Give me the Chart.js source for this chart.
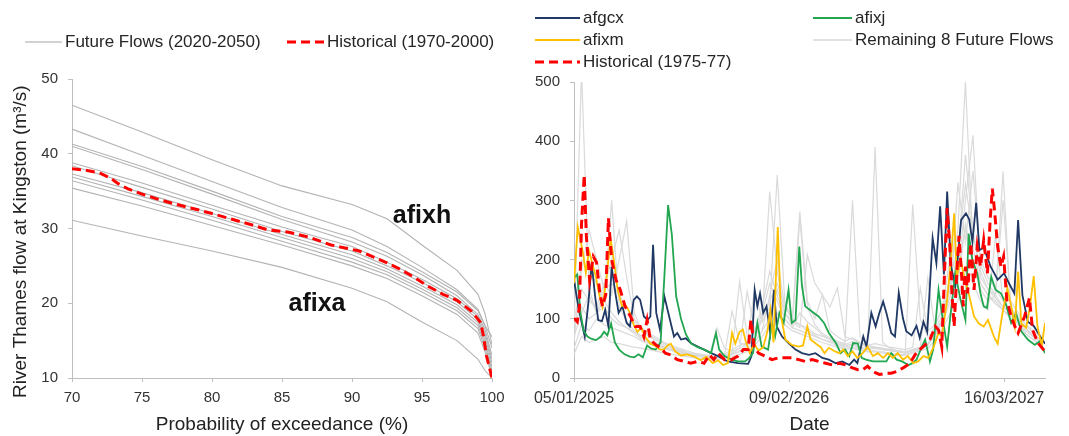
<!DOCTYPE html>
<html>
<head>
<meta charset="utf-8">
<script src="https://cdn.jsdelivr.net/npm/chart.js@4.4.1/dist/chart.umd.min.js"></script>
<style>
    body { margin: 0; background: #fff; font-family: "Liberation Sans", Arial, sans-serif; }
    #wrap { position: relative; width: 1069px; height: 436px; overflow: hidden; }
    canvas { position: absolute; top: 0; }
    .leg { position: absolute; height: 20px; line-height: 20px; display: flex; align-items: center; font-size: 17px; color: #262626; white-space: nowrap; }
    .leg svg { display: block; margin-right: 3px; }
</style>
</head>
<body>
<div id="wrap">
    <canvas id="fdcChart" width="540" height="436" style="left:0"></canvas>
    <canvas id="flowChart" width="549" height="436" style="left:520px"></canvas>

    <div class="leg" style="left:25px;top:32px"><svg width="37" height="20"><line x1="0" y1="10" x2="37" y2="10" stroke="#a6a6a6" stroke-width="1.2"/></svg>Future Flows (2020-2050)</div>
    <div class="leg" style="left:287px;top:32px"><svg width="37" height="20"><line x1="0" y1="10" x2="37" y2="10" stroke="#ff0000" stroke-width="3" stroke-dasharray="9 5"/></svg>Historical (1970-2000)</div>

    <div class="leg" style="left:535px;top:8px"><svg width="45" height="20"><line x1="0" y1="10" x2="45" y2="10" stroke="#1f3864" stroke-width="2"/></svg>afgcx</div>
    <div class="leg" style="left:535px;top:30px"><svg width="45" height="20"><line x1="0" y1="10" x2="45" y2="10" stroke="#ffc000" stroke-width="2"/></svg>afixm</div>
    <div class="leg" style="left:535px;top:52px"><svg width="45" height="20"><line x1="0" y1="10" x2="45" y2="10" stroke="#ff0000" stroke-width="3" stroke-dasharray="9 5"/></svg>Historical (1975-77)</div>
    <div class="leg" style="left:813px;top:8px"><svg width="39" height="20"><line x1="0" y1="10" x2="39" y2="10" stroke="#22a650" stroke-width="2"/></svg>afixj</div>
    <div class="leg" style="left:813px;top:30px"><svg width="39" height="20"><line x1="0" y1="10" x2="39" y2="10" stroke="#d9d9d9" stroke-width="1.5"/></svg>Remaining 8 Future Flows</div>
</div>

<script>
///////////////////////////// left panel: flow duration curves /////////////////////////////
const exceedance = [70, 75, 80, 85, 90, 92.5, 95, 97.5, 99, 99.5, 100];
const futureFlowCurves = [
    [46.5, 42.9, 39.2, 35.7, 33.2, 31.3, 27.8, 24.4, 21.2, 18.6, 14.5], // afixh
    [43.3, 39.8, 36.3, 32.8, 29.8, 27.6, 24.8, 21.8, 19.2, 17.0, 14.0],
    [41.3, 38.3, 35.0, 31.6, 28.8, 26.8, 24.2, 21.5, 19.0, 17.0, 15.5],
    [41.0, 37.9, 34.6, 31.2, 28.2, 26.3, 23.8, 21.0, 18.5, 16.5, 13.0],
    [38.8, 36.1, 33.1, 30.2, 27.6, 25.5, 23.2, 20.6, 18.2, 16.0, 12.5],
    [38.4, 35.5, 32.6, 29.6, 27.0, 25.0, 22.8, 20.2, 17.8, 15.5, 12.0],
    [37.3, 34.8, 32.0, 29.2, 26.5, 24.6, 22.3, 19.8, 17.4, 15.0, 11.5],
    [36.9, 34.3, 31.6, 28.8, 26.0, 24.2, 21.9, 19.4, 17.0, 14.5, 11.0],
    [36.4, 33.8, 31.1, 28.3, 25.5, 23.8, 21.5, 19.0, 16.6, 14.0, 10.5],
    [35.4, 33.0, 30.4, 27.8, 25.0, 23.3, 21.0, 18.5, 16.0, 13.5, 10.2],
    [31.1, 29.0, 27.0, 24.8, 22.0, 20.2, 17.5, 15.0, 12.5, 11.0, 10.0]  // afixa
];
const histExceed = [70, 71, 72, 72.7, 73.3, 74, 75, 76, 77.5, 79, 80, 81.5, 83, 84, 85.5, 87, 88.5, 89.5, 90.5, 91.5, 92.5, 93.5, 94.5, 95.5, 96.5, 97.5, 98.5, 99.2, 99.4, 99.6, 99.8, 100];
const histFlow = [38.0, 37.8, 37.4, 36.8, 36.0, 35.3, 34.6, 34.0, 33.2, 32.5, 32.0, 31.2, 30.4, 29.8, 29.5, 28.8, 27.8, 27.4, 27.0, 26.2, 25.4, 24.5, 23.4, 22.2, 21.2, 20.4, 19.0, 17.4, 15.5, 13.0, 11.5, 10.0];

///////////////////////////// right panel: daily flows (day since 05/01/2025, m3/s) /////////////////////////////
const dateTickDays = [0, 400, 800];
const dateTicks = ['05/01/2025', '09/02/2026', '16/03/2027'];

const afgcx = [[0,166],[8,120],[14,95],[20,70],[27,130],[33,194],[39,140],[45,98],[52,96],[58,115],[64,87],[70,188],[77,143],[83,110],[90,121],[98,93],[104,87],[111,132],[117,138],[123,132],[130,104],[137,98],[142,104],[147,225],[153,110],[160,81],[168,138],[177,104],[186,70],[192,76],[199,65],[208,67],[217,59],[230,53],[242,48],[255,42],[268,37],[286,28],[305,25],[324,24],[330,37],[336,149],[341,121],[346,143],[352,110],[358,121],[365,76],[372,149],[377,87],[387,70],[399,59],[412,48],[424,42],[437,39],[449,42],[462,34],[474,31],[487,25],[499,28],[512,22],[521,31],[527,25],[538,70],[544,53],[553,110],[561,87],[568,110],[575,129],[581,110],[590,76],[597,70],[604,144],[612,100],[618,79],[628,72],[637,88],[643,68],[650,95],[657,78],[667,236],[674,194],[681,290],[688,175],[694,315],[701,190],[709,155],[720,267],[729,278],[735,268],[741,230],[748,296],[754,216],[762,220],[775,188],[788,166],[800,177],[809,160],[819,143],[826,267],[834,140],[844,95],[855,88],[866,72],[876,58]];

const afixj = [[0,169],[6,175],[12,110],[18,80],[25,70],[33,66],[41,64],[50,70],[56,78],[62,72],[69,92],[76,60],[84,48],[94,40],[104,36],[112,35],[120,40],[128,35],[136,55],[143,50],[152,48],[161,60],[168,170],[175,292],[182,242],[190,138],[199,100],[208,74],[218,58],[230,52],[242,48],[255,42],[264,76],[270,48],[280,37],[293,31],[305,28],[318,28],[326,34],[333,42],[341,93],[349,53],[361,48],[368,93],[374,70],[382,110],[390,93],[399,149],[405,93],[412,98],[419,222],[424,155],[430,121],[443,112],[455,104],[465,93],[474,76],[487,59],[496,42],[504,48],[512,37],[519,59],[528,58],[535,34],[543,31],[556,28],[568,28],[581,28],[590,42],[600,31],[610,28],[622,22],[630,25],[637,31],[647,53],[653,65],[662,28],[668,48],[678,149],[684,110],[694,53],[700,104],[709,177],[719,132],[728,98],[734,244],[741,199],[750,177],[756,143],[762,121],[768,118],[776,171],[784,149],[794,143],[803,126],[813,93],[822,110],[832,79],[844,65],[857,56],[866,62],[876,42]];

const afixm = [[0,160],[7,255],[16,215],[22,178],[28,215],[35,190],[41,170],[47,140],[53,120],[60,165],[68,235],[74,200],[81,150],[89,122],[97,122],[104,110],[111,90],[118,78],[125,85],[132,70],[142,58],[150,55],[160,48],[167,48],[174,55],[180,58],[188,45],[199,38],[210,40],[224,36],[236,30],[246,36],[258,25],[268,30],[277,22],[286,25],[294,76],[300,58],[308,78],[314,82],[320,60],[327,42],[335,58],[343,46],[352,52],[360,80],[365,115],[371,60],[379,255],[385,105],[393,65],[405,56],[418,53],[426,55],[434,87],[440,65],[450,58],[459,52],[466,42],[474,51],[483,46],[493,42],[501,48],[509,37],[518,45],[527,34],[537,42],[546,53],[556,37],[565,42],[575,34],[584,42],[593,34],[602,42],[612,31],[621,37],[631,25],[640,28],[650,37],[659,34],[669,53],[678,76],[684,70],[694,132],[701,199],[707,278],[712,170],[719,200],[727,165],[734,143],[744,104],[753,92],[762,87],[770,98],[781,70],[788,58],[797,110],[806,152],[814,118],[820,87],[826,180],[832,92],[841,85],[848,120],[855,172],[862,87],[870,55],[876,93]];

const historical = [[0,101],[6,95],[10,120],[14,260],[19,343],[23,240],[29,166],[36,205],[42,195],[48,143],[53,121],[59,140],[64,270],[70,200],[78,166],[86,149],[95,121],[105,104],[114,87],[123,87],[130,70],[136,98],[142,65],[152,56],[161,51],[170,42],[180,39],[192,31],[205,28],[217,25],[230,28],[242,25],[252,39],[260,31],[268,42],[280,31],[293,31],[305,37],[315,48],[324,48],[329,98],[335,53],[343,42],[355,37],[368,31],[380,34],[393,34],[405,34],[418,31],[430,28],[443,31],[455,28],[468,25],[481,22],[493,25],[506,22],[518,17],[528,14],[537,14],[546,20],[556,11],[568,6],[581,8],[590,8],[600,11],[612,17],[625,25],[634,39],[643,48],[653,56],[662,65],[672,87],[678,81],[684,53],[690,199],[694,287],[699,222],[703,143],[707,87],[712,177],[716,240],[720,188],[724,121],[728,188],[732,143],[738,228],[744,149],[750,222],[756,188],[762,233],[769,177],[774,267],[778,320],[782,284],[788,222],[794,188],[799,205],[805,132],[813,104],[820,87],[826,76],[832,90],[838,104],[847,135],[853,81],[863,59],[876,45]];

// remaining 8 future flows, read every 14 days
const grayDays = Array.from({ length: 63 }, (_, i) => i * 14);
const remainingFlows = [
    [80, 520, 150, 110, 130, 110, 95, 85, 75, 65,
     60, 55, 50, 47, 44, 40, 38, 36, 34, 35,
     38, 42, 50, 58, 80, 120, 180, 140, 100, 85,
     110, 95, 85, 72, 66, 60, 56, 62, 58, 52,
     390, 60, 50, 46, 44, 48, 52, 58, 75, 100,
     180, 250, 500, 220, 160, 140, 130, 115, 100, 95,
     75, 65, 55],
    [60, 200, 180, 160, 130, 300, 120, 95, 80, 70,
     62, 58, 52, 48, 45, 42, 40, 36, 34, 33,
     35, 40, 45, 55, 65, 100, 315, 180, 110, 90,
     270, 120, 90, 75, 68, 62, 58, 300, 70, 55,
     52, 48, 46, 44, 43, 48, 50, 56, 90, 120,
     210, 170, 300, 410, 180, 150, 140, 120, 110, 100,
     85, 70, 60],
    [100, 150, 130, 120, 160, 140, 200, 265, 110, 80,
     70, 62, 55, 50, 46, 42, 40, 38, 35, 37,
     40, 48, 55, 60, 150, 95, 120, 343, 130, 95,
     90, 85, 75, 70, 65, 58, 52, 56, 50, 48,
     50, 48, 46, 44, 42, 46, 50, 58, 70, 100,
     140, 330, 230, 350, 200, 170, 150, 130, 115, 105,
     90, 75, 65],
    [70, 110, 140, 110, 150, 200, 250, 170, 100, 80,
     72, 65, 58, 52, 48, 44, 40, 38, 36, 38,
     40, 113, 60, 55, 60, 80, 100, 150, 110, 95,
     85, 208, 160, 140, 120, 152, 70, 65, 60, 55,
     52, 50, 48, 46, 44, 293, 100, 70, 80, 110,
     150, 200, 377, 250, 170, 150, 135, 120, 110, 95,
     80, 70, 62],
    [50, 90, 80, 100, 90, 85, 80, 75, 70, 62,
     58, 54, 50, 46, 42, 40, 38, 35, 33, 34,
     36, 40, 45, 50, 60, 80, 140, 200, 120, 100,
     90, 80, 72, 65, 60, 55, 50, 52, 48, 45,
     46, 44, 42, 40, 40, 44, 48, 55, 75, 95,
     130, 160, 260, 200, 150, 130, 140, 349, 120, 100,
     85, 70, 60],
    [40, 70, 60, 65, 70, 60, 58, 55, 52, 50,
     48, 45, 42, 40, 38, 36, 34, 32, 30, 31,
     33, 36, 40, 45, 55, 70, 90, 110, 90, 80,
     75, 70, 65, 60, 56, 52, 48, 50, 46, 44,
     44, 42, 40, 38, 38, 42, 46, 50, 65, 85,
     110, 130, 180, 160, 130, 115, 242, 130, 110, 90,
     75, 65, 55],
    [130, 180, 250, 200, 150, 160, 140, 120, 95, 85,
     75, 68, 60, 55, 50, 46, 42, 40, 38, 84,
     50, 45, 50, 146, 80, 100, 130, 160, 120, 100,
     281, 130, 100, 141, 80, 70, 62, 68, 60, 55,
     58, 55, 52, 50, 48, 52, 152, 80, 90, 120,
     170, 220, 327, 240, 190, 160, 140, 300, 130, 110,
     90, 80, 70],
    [90, 120, 100, 110, 120, 100, 90, 85, 78, 68,
     62, 58, 52, 48, 45, 42, 40, 37, 35, 36,
     38, 42, 163, 70, 75, 110, 160, 130, 100, 85,
     80, 75, 70, 65, 62, 58, 54, 58, 52, 50,
     52, 50, 48, 46, 44, 48, 52, 169, 80, 100,
     160, 190, 250, 190, 160, 140, 125, 115, 105, 95,
     80, 70, 60]
];

const FONT = '"Liberation Sans", Arial, sans-serif';
const AXIS_GREY = '#bfbfbf';
const curveLabels = [
    { text: 'afixh', x: 95.0, y: 30.7 },
    { text: 'afixa', x: 87.5, y: 19.0 }
];

const curveLabelPlugin = {
    id: 'curveLabels',
    afterDatasetsDraw(chart) {
        const ctx = chart.ctx;
        ctx.save();
        ctx.font = 'bold 25px ' + FONT;
        ctx.fillStyle = '#111';
        ctx.textAlign = 'center';
        ctx.textBaseline = 'alphabetic';
        curveLabels.forEach(l => {
            ctx.fillText(l.text, chart.scales.x.getPixelForValue(l.x), chart.scales.y.getPixelForValue(l.y));
        });
        ctx.restore();
    }
};

function pairs(xs, ys) {
    return xs.map((x, i) => ({ x: x, y: ys[i] }));
}

function axisBase() {
    return {
        border: { color: AXIS_GREY, width: 1 },
        grid: { drawOnChartArea: false, color: AXIS_GREY, tickLength: 4 },
        ticks: { color: '#333', font: { family: FONT, size: 15 } }
    };
}

const fdcDatasets = futureFlowCurves.map(c => ({
    data: pairs(exceedance, c),
    borderColor: '#b3b3b3',
    borderWidth: 1.1,
    order: 5
}));
fdcDatasets.push({
    data: pairs(histExceed, histFlow),
    borderColor: '#ff0000',
    borderWidth: 3,
    borderDash: [9, 5],
    order: 0
});

new Chart(document.getElementById('fdcChart'), {
    type: 'line',
    data: { datasets: fdcDatasets },
    plugins: [curveLabelPlugin],
    options: {
        responsive: false,
        animation: false,
        layout: { padding: { top: 79, right: 48, left: 0, bottom: 0 } },
        elements: { point: { radius: 0 }, line: { tension: 0 } },
        plugins: { legend: { display: false }, tooltip: { enabled: false } },
        scales: {
            x: Object.assign(axisBase(), {
                type: 'linear', min: 70, max: 100,
                ticks: { color: '#333', font: { family: FONT, size: 15 }, stepSize: 5, padding: 7, maxRotation: 0 },
                title: { display: true, text: 'Probability of exceedance (%)', color: '#222', font: { family: FONT, size: 19 }, padding: { top: 0, bottom: 0 } },
                afterFit: s => { s.height = 58; }
            }),
            y: Object.assign(axisBase(), {
                type: 'linear', min: 10, max: 50,
                ticks: { color: '#333', font: { family: FONT, size: 15 }, stepSize: 10, padding: 10 },
                title: { display: true, text: 'River Thames flow at Kingston (m³/s)\u00a0\u00a0\u00a0\u00a0\u00a0', color: '#222', font: { family: FONT, size: 19 }, padding: { top: 9, bottom: 0 } },
                afterFit: s => { s.width = 72; }
            })
        }
    }
});

///////////////////////////// right chart /////////////////////////////
const toXY = arr => arr.map(p => ({ x: p[0], y: p[1] }));

const flowDatasets = remainingFlows.map(f => ({
    data: pairs(grayDays, f),
    borderColor: '#dadada',
    borderWidth: 1.2,
    order: 10
}));
flowDatasets.push(
    { data: toXY(afgcx), borderColor: '#1f3864', borderWidth: 1.8, order: 3 },
    { data: toXY(afixj), borderColor: '#22a650', borderWidth: 1.8, order: 2 },
    { data: toXY(afixm), borderColor: '#ffc000', borderWidth: 1.8, order: 1 },
    { data: toXY(historical), borderColor: '#ff0000', borderWidth: 3, borderDash: [9, 5], order: 0 }
);

new Chart(document.getElementById('flowChart'), {
    type: 'line',
    data: { datasets: flowDatasets },
    options: {
        responsive: false,
        animation: false,
        layout: { padding: { top: 82, right: 24, left: 0, bottom: 0 } },
        elements: { point: { radius: 0 }, line: { tension: 0 } },
        plugins: { legend: { display: false }, tooltip: { enabled: false } },
        scales: {
            x: Object.assign(axisBase(), {
                type: 'linear', min: 0, max: 876,
                afterBuildTicks: s => { s.ticks = dateTickDays.map(v => ({ value: v })); },
                ticks: {
                    color: '#333', font: { family: FONT, size: 16 }, padding: 7, maxRotation: 0, autoSkip: false,
                    callback: v => dateTicks[dateTickDays.indexOf(v)]
                },
                title: { display: true, text: 'Date', color: '#222', font: { family: FONT, size: 19 }, padding: { top: 0, bottom: 0 } },
                afterFit: s => { s.height = 58; }
            }),
            y: Object.assign(axisBase(), {
                type: 'linear', min: 0, max: 500,
                ticks: { color: '#333', font: { family: FONT, size: 15 }, stepSize: 100, padding: 10 },
                afterFit: s => { s.width = 54; }
            })
        }
    }
});
</script>
</body>
</html>
